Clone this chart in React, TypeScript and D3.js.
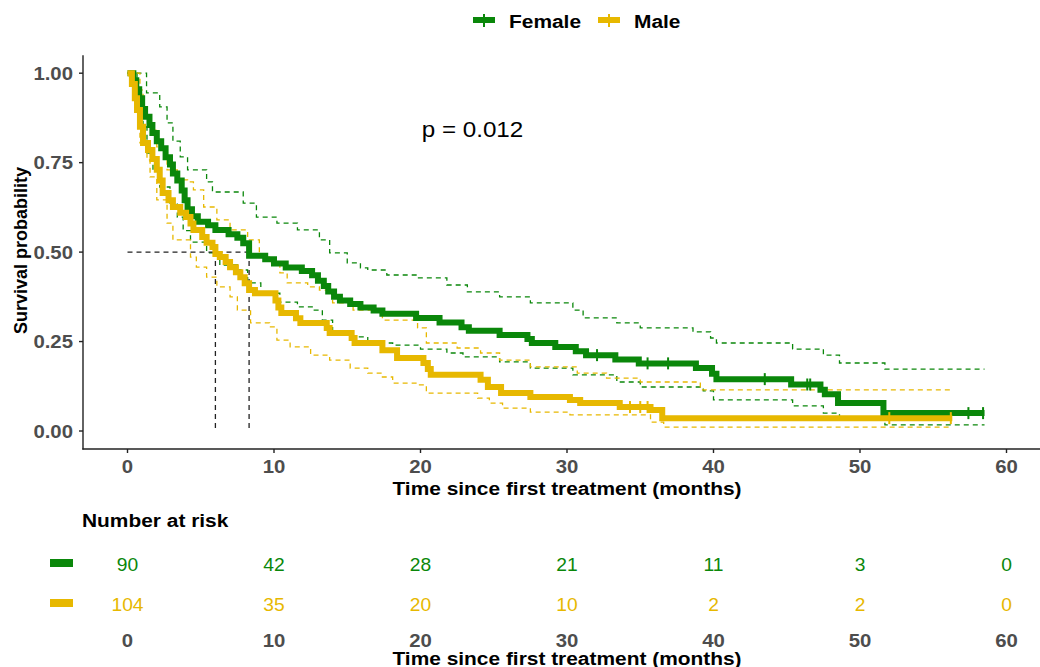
import React from "react";
import * as d3 from "d3";

// ---------- DATA ----------
const groups = ["Female", "Male"];
const groupColors = ["#0A870A", "#E7B800"];
const pValueLabel = "p = 0.012";
const yTicks = [0, 0.25, 0.5, 0.75, 1.0];
const xTicks = [0, 10, 20, 30, 40, 50, 60];
const xTitle = "Time since first treatment (months)";
const yTitle = "Survival probability";

// Female KM estimate (time of step, survival after step)
const femaleTime = [0, 0.4, 0.6, 0.8, 1.0, 1.2, 1.5, 1.7, 2.0, 2.3, 2.6, 2.9, 3.1, 3.4, 3.7, 3.9, 4.1, 4.4, 4.8, 5.5, 6.0, 6.9, 7.5, 7.9, 8.3, 9.4, 10.0, 10.8, 11.9, 12.6, 13.0, 13.4, 13.7, 14.1, 14.5, 15.2, 15.9, 16.8, 17.4, 19.7, 21.3, 22.8, 23.3, 25.4, 27.3, 27.6, 29.2, 30.6, 31.3, 33.3, 34.9, 38.8, 39.9, 40.2, 45.3, 47.3, 47.6, 48.5, 51.6, 58.5];
const femaleSurv = [1.0, 0.98, 0.955, 0.93, 0.9, 0.878, 0.855, 0.833, 0.81, 0.79, 0.765, 0.745, 0.72, 0.7, 0.672, 0.645, 0.62, 0.6, 0.585, 0.575, 0.562, 0.55, 0.54, 0.525, 0.49, 0.48, 0.468, 0.457, 0.447, 0.435, 0.42, 0.405, 0.39, 0.375, 0.365, 0.355, 0.345, 0.337, 0.328, 0.316, 0.303, 0.29, 0.28, 0.268, 0.257, 0.246, 0.235, 0.223, 0.212, 0.2, 0.189, 0.176, 0.16, 0.145, 0.13, 0.115, 0.103, 0.078, 0.05, 0.05];
const femaleUpperTime = [0, 0.4, 1.3, 2.2, 2.7, 3.1, 3.6, 4.1, 5.4, 5.8, 7.9, 8.8, 10.2, 11.6, 13.1, 13.8, 15.0, 15.9, 16.4, 17.7, 19.8, 21.8, 23.2, 25.4, 27.5, 30.4, 31.1, 33.4, 35.0, 38.6, 39.8, 40.2, 45.4, 47.5, 48.6, 51.7, 58.5];
const femaleUpper = [1.0, 1.0, 0.945, 0.906, 0.861, 0.81, 0.766, 0.73, 0.696, 0.668, 0.637, 0.598, 0.581, 0.562, 0.534, 0.498, 0.47, 0.456, 0.45, 0.436, 0.428, 0.408, 0.389, 0.375, 0.358, 0.338, 0.316, 0.302, 0.288, 0.277, 0.26, 0.246, 0.229, 0.212, 0.19, 0.173, 0.173];
const femaleLowerTime = [0, 0.65, 0.85, 1.06, 1.33, 1.74, 2.2, 2.9, 3.4, 3.8, 4.3, 5.4, 6.3, 7.5, 8.2, 9.1, 10.4, 11.6, 12.7, 13.3, 14.0, 15.2, 16.4, 18.1, 20.0, 21.8, 22.9, 25.4, 27.5, 30.4, 33.4, 35.0, 39.3, 40.0, 45.4, 47.5, 48.6, 51.7, 58.5];
const femaleLower = [1.0, 0.96, 0.925, 0.85, 0.777, 0.73, 0.682, 0.637, 0.598, 0.56, 0.528, 0.498, 0.464, 0.45, 0.414, 0.385, 0.36, 0.347, 0.338, 0.31, 0.277, 0.263, 0.246, 0.24, 0.229, 0.218, 0.207, 0.193, 0.176, 0.157, 0.137, 0.123, 0.112, 0.087, 0.07, 0.05, 0.034, 0.017, 0.017];
const femaleCensor = [32.05, 35.5, 36.9, 43.5, 46.4, 46.6, 57.4, 58.4];

// Male KM estimate
const maleTime = [0, 0.3, 0.5, 0.65, 0.85, 1.06, 1.4, 1.7, 2.0, 2.2, 2.4, 2.8, 3.1, 3.6, 4.0, 4.3, 4.5, 5.1, 5.4, 5.8, 6.0, 6.3, 6.7, 7.0, 7.4, 7.7, 8.0, 8.3, 8.7, 10.1, 10.3, 10.5, 11.5, 11.8, 13.6, 13.8, 15.3, 15.5, 17.4, 18.4, 20.2, 20.5, 20.7, 24.1, 24.6, 25.5, 27.5, 30.2, 30.9, 33.6, 35.7, 36.5, 56.3];
const maleSurv = [1.0, 0.97, 0.93, 0.897, 0.85, 0.805, 0.785, 0.76, 0.73, 0.7, 0.665, 0.645, 0.626, 0.61, 0.598, 0.58, 0.562, 0.542, 0.526, 0.514, 0.495, 0.486, 0.472, 0.458, 0.444, 0.43, 0.413, 0.394, 0.385, 0.365, 0.345, 0.33, 0.315, 0.302, 0.288, 0.274, 0.26, 0.246, 0.226, 0.204, 0.19, 0.173, 0.157, 0.143, 0.123, 0.106, 0.095, 0.087, 0.078, 0.067, 0.059, 0.036, 0.036];
const maleUpperTime = [0, 0.85, 1.06, 1.54, 2.0, 2.7, 3.4, 4.1, 4.5, 5.2, 6.1, 7.0, 8.2, 9.0, 9.7, 10.4, 10.9, 12.3, 13.1, 14.0, 15.4, 17.2, 17.4, 19.8, 20.4, 22.5, 24.1, 25.4, 27.5, 30.7, 32.7, 35.0, 39.1, 56.2];
const maleUpper = [1.0, 0.953, 0.878, 0.841, 0.794, 0.73, 0.702, 0.696, 0.674, 0.626, 0.59, 0.562, 0.534, 0.486, 0.47, 0.442, 0.414, 0.403, 0.394, 0.358, 0.338, 0.33, 0.31, 0.288, 0.246, 0.232, 0.218, 0.198, 0.179, 0.162, 0.148, 0.137, 0.115, 0.115];
const maleLowerTime = [0, 0.2, 0.65, 0.85, 1.33, 1.54, 2.0, 2.7, 3.1, 4.3, 4.7, 5.4, 6.1, 7.0, 7.5, 8.4, 9.7, 10.2, 11.1, 12.5, 13.8, 15.2, 16.4, 17.4, 18.1, 19.8, 20.4, 23.9, 24.7, 25.6, 27.5, 30.2, 35.7, 36.6, 56.2];
const maleLower = [1.0, 0.98, 0.925, 0.805, 0.758, 0.71, 0.646, 0.581, 0.534, 0.486, 0.458, 0.43, 0.403, 0.375, 0.338, 0.302, 0.291, 0.254, 0.235, 0.212, 0.198, 0.176, 0.162, 0.151, 0.134, 0.129, 0.106, 0.092, 0.078, 0.064, 0.053, 0.045, 0.025, 0.011, 0.011];
const maleCensor = [34.3, 35.0, 35.5, 52.0, 56.2];

const medianTimes = [6.0, 8.3];

const riskTimes = [0, 10, 20, 30, 40, 50, 60];
const femaleRisk = [90, 42, 28, 21, 11, 3, 0];
const maleRisk = [104, 35, 20, 10, 2, 2, 0];

// ---------- LAYOUT ----------
const W = 1040;
const H = 667;
const SX = 1.1; // horizontal text stretch of the reference

const x = d3.scaleLinear().domain([-3, 63]).range([127.5 - 3 * 14.65, 127.5 + 63 * 14.65]);
const y = d3.scaleLinear().domain([-0.05, 1.05]).range([448.9, 55.3]);

const FONT = "'Liberation Sans', Arial, Helvetica, sans-serif";

function T(props: any) {
  const { x: tx, y: ty, anchor = "start", size = 16, weight = "normal", fill = "#000", sx = SX, children } = props;
  return (
    <text
      transform={`translate(${tx},${ty}) scale(${sx},1)`}
      textAnchor={anchor}
      fontSize={size}
      fontWeight={weight}
      fill={fill}
      fontFamily={FONT}
    >
      {children}
    </text>
  );
}

function stepPath(times: number[], vals: number[]) {
  const pts: [number, number][] = times.map((t, i) => [t, vals[i]]);
  const line = d3
    .line<[number, number]>()
    .x((d) => x(d[0]))
    .y((d) => y(d[1]))
    .curve(d3.curveStepAfter);
  return line(pts) || "";
}

function survAt(times: number[], vals: number[], t: number) {
  const i = d3.bisectRight(times, t) - 1;
  return vals[Math.max(0, i)];
}

export default function App() {
  const series = [
    { time: femaleTime, surv: femaleSurv, upT: femaleUpperTime, up: femaleUpper, loT: femaleLowerTime, lo: femaleLower, cens: femaleCensor, color: groupColors[0] },
    { time: maleTime, surv: maleSurv, upT: maleUpperTime, up: maleUpper, loT: maleLowerTime, lo: maleLower, cens: maleCensor, color: groupColors[1] },
  ];
  const riskRows = [femaleRisk, maleRisk];
  const riskY = [571, 611];

  return (
    <svg width={W} height={H} style={{ position: "absolute", left: 0, top: 0, background: "#fff" }}>
      <rect x={0} y={0} width={W} height={H} fill="#fff" />

      {/* Legend */}
      {groups.map((g, i) => {
        const kx = [473, 598][i];
        const tx = [509, 634][i];
        return (
          <g key={g}>
            <line x1={kx} x2={kx + 22} y1={20} y2={20} stroke={groupColors[i]} strokeWidth={6} />
            <line x1={kx + 11} x2={kx + 11} y1={14} y2={27} stroke={groupColors[i]} strokeWidth={2} />
            <T x={tx} y={27.5} size={19} weight="bold">{g}</T>
          </g>
        );
      })}

      {/* Confidence intervals */}
      {series.map((s, i) => (
        <g key={"ci" + i} fill="none" stroke={s.color} strokeWidth={1.3} strokeDasharray="5,4">
          <path d={stepPath(s.upT, s.up)} />
          <path d={stepPath(s.loT, s.lo)} />
        </g>
      ))}

      {/* Median lines */}
      <g stroke="#222" strokeWidth={1.3} strokeDasharray="5,4" fill="none">
        <line x1={x(0)} x2={x(d3.max(medianTimes) as number)} y1={y(0.5)} y2={y(0.5)} />
        {medianTimes.map((m) => (
          <line key={m} x1={x(m)} x2={x(m)} y1={y(0.5)} y2={y(0)} />
        ))}
      </g>

      {/* Survival curves */}
      {series.map((s, i) => (
        <g key={"km" + i}>
          <path d={stepPath(s.time, s.surv)} fill="none" stroke={s.color} strokeWidth={6} strokeLinejoin="miter" />
          {s.cens.map((c, j) => {
            const v = survAt(s.time, s.surv, c);
            return <line key={j} x1={x(c)} x2={x(c)} y1={y(v) - 6} y2={y(v) + 6} stroke={s.color} strokeWidth={2} />;
          })}
        </g>
      ))}

      {/* p value */}
      <T x={472.5} y={137} size={22} anchor="middle">{pValueLabel}</T>

      {/* Axes */}
      <g stroke="#222" strokeWidth={1.4}>
        <line x1={83} x2={83} y1={55.3} y2={449.5} />
        <line x1={82.3} x2={W} y1={449} y2={449} />
        {yTicks.map((t) => (
          <line key={"yt" + t} x1={79} x2={83} y1={y(t)} y2={y(t)} />
        ))}
        {xTicks.map((t) => (
          <line key={"xt" + t} x1={x(t)} x2={x(t)} y1={449} y2={453} />
        ))}
      </g>
      {yTicks.map((t) => (
        <T key={"yl" + t} x={73} y={y(t) + 6.5} size={18.5} weight="bold" fill="#4D4D4D" anchor="end">
          {t.toFixed(2)}
        </T>
      ))}
      {xTicks.map((t) => (
        <T key={"xl" + t} x={x(t)} y={472.5} size={18.5} weight="bold" fill="#4D4D4D" anchor="middle">
          {t}
        </T>
      ))}
      <T x={567} y={495} size={19} weight="bold" anchor="middle">{xTitle}</T>
      <text
        transform={`translate(27,${250.5}) rotate(-90)`}
        textAnchor="middle"
        fontSize={18}
        fontWeight="bold"
        fontFamily={FONT}
      >
        {yTitle}
      </text>

      {/* Risk table */}
      <T x={82} y={527} size={19} weight="bold">Number at risk</T>
      {riskRows.map((row, i) => (
        <g key={"risk" + i}>
          <rect x={50} y={riskY[i] - 12} width={23} height={8} fill={groupColors[i]} />
          {row.map((n, j) => (
            <T key={j} x={x(riskTimes[j])} y={riskY[i]} size={17.5} anchor="middle" fill={groupColors[i]}>
              {n}
            </T>
          ))}
        </g>
      ))}
      {riskTimes.map((t) => (
        <T key={"rt" + t} x={x(t)} y={647} size={18.5} weight="bold" fill="#4D4D4D" anchor="middle">
          {t}
        </T>
      ))}
      <T x={567} y={665} size={19} weight="bold" anchor="middle">{xTitle}</T>
    </svg>
  );
}
